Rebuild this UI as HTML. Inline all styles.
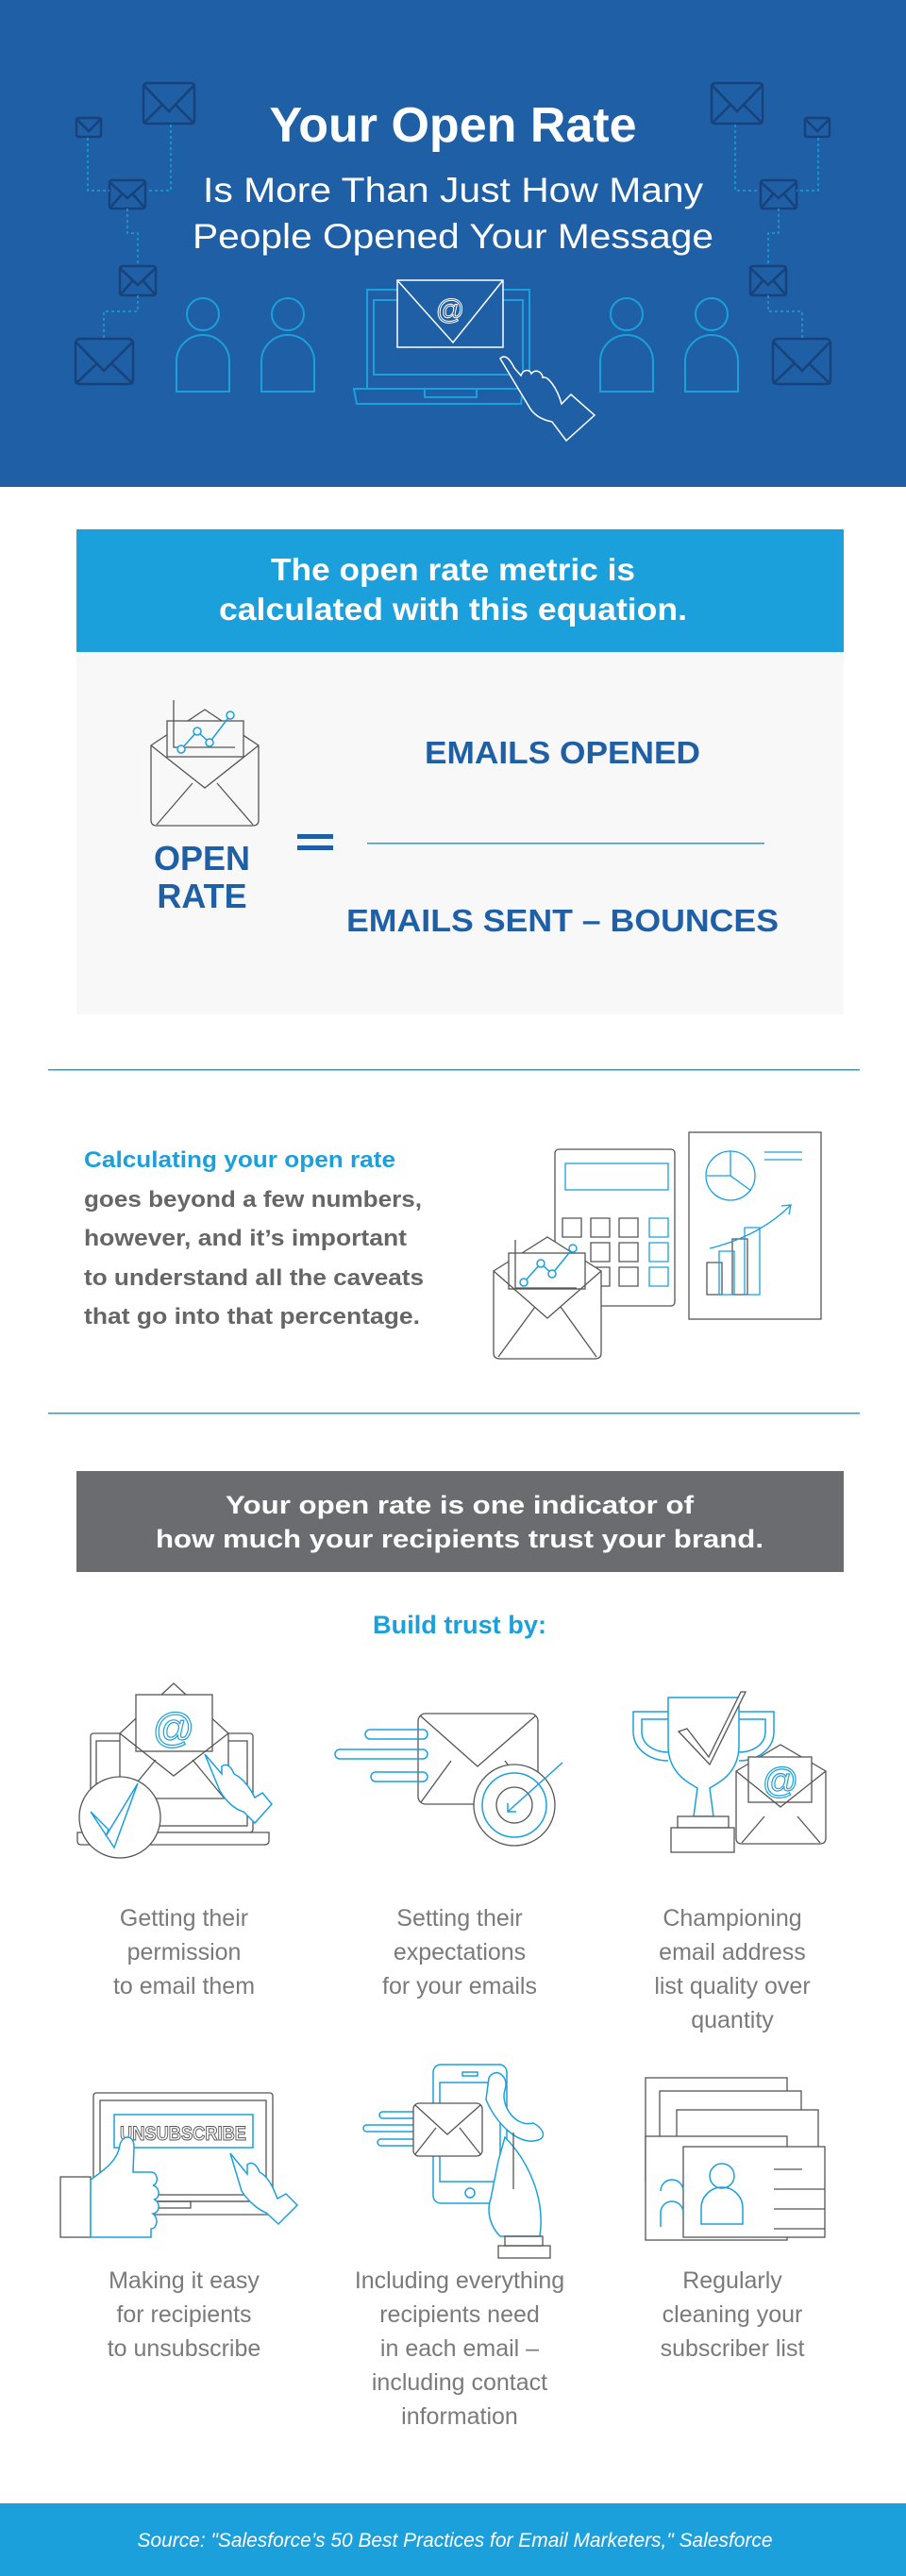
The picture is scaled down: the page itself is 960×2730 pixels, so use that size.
<!DOCTYPE html>
<html><head><meta charset="utf-8"><style>
html,body{margin:0;padding:0;background:#fff}
svg{display:block}
text{font-family:"Liberation Sans",sans-serif}
</style></head><body>
<svg width="960" height="2730" viewBox="0 0 960 2730" xmlns="http://www.w3.org/2000/svg">
<rect x="0" y="0" width="960" height="516" fill="#1f5fa6"/>
<g fill="none" stroke="#17427a" stroke-width="2.5">
 <g id="envL">
 <rect x="152" y="88" width="54" height="43" rx="4"/><path d="M152 90 L179 118 L206 90 M152 131 L172 111 M206 131 L186 111"/>
 <rect x="81" y="125" width="26" height="20" rx="2"/><path d="M81 126 L94 139 L107 126"/>
 <rect x="116" y="191" width="38" height="30" rx="3"/><path d="M116 193 L135 210 L154 193 M116 221 L129 206 M154 221 L141 206"/>
 <rect x="127" y="282" width="38" height="31" rx="3"/><path d="M127 284 L146 302 L165 284 M127 313 L140 298 M165 313 L152 298"/>
 <rect x="80" y="359" width="61" height="48" rx="5"/><path d="M80 362 L110 393 L141 362 M80 407 L103 385 M141 407 L118 385"/>
 </g>
 <use href="#envL" transform="translate(960 0) scale(-1 1)"/>
</g>
<g fill="none" stroke="#1ba0dc" stroke-width="1.5" stroke-dasharray="3 3">
 <path d="M181 132 V202 H156 M93 146 V202 H116 M135 221 V247 H146 V282 M146 313 V330 H110 V359"/>
 <path d="M779 132 V202 H804 M867 146 V202 H844 M825 221 V247 H814 V282 M814 313 V330 H850 V359"/>
</g>
<text x="480" y="150" text-anchor="middle" font-size="52" font-weight="bold" fill="#fff">Your Open Rate</text>
<text x="480" y="214" text-anchor="middle" font-size="37" fill="#fff" textLength="530" lengthAdjust="spacingAndGlyphs">Is More Than Just How Many</text>
<text x="480" y="263" text-anchor="middle" font-size="37" fill="#fff" textLength="552" lengthAdjust="spacingAndGlyphs">People Opened Your Message</text>
<g fill="none" stroke="#1ba0dc" stroke-width="2">
 <g id="pp"><ellipse cx="215" cy="333" rx="17" ry="17"/><path d="M187 415 V383 A28 28 0 0 1 243 383 V415 Z"/></g>
 <use href="#pp" transform="translate(90 0)"/><use href="#pp" transform="translate(449 0)"/><use href="#pp" transform="translate(539 0)"/>
 <rect x="389" y="307" width="172" height="105"/><rect x="396" y="318" width="158" height="79"/>
 <path d="M375 412 H554 L552 428 H378 Z"/><rect x="450" y="412" width="55" height="9"/>
</g>
<g fill="#1f5fa6" stroke="#fff" stroke-width="1.5">
 <rect x="421" y="297" width="112" height="71"/>
 <path d="M421 297 L480 363 L533 297" fill="none"/>
 <text x="477" y="338" text-anchor="middle" font-size="30" fill="none" stroke="#fff" stroke-width="1">@</text>
 <path d="M530 380 C535 375 540 380 545 390 L552 398 C555 390 562 392 563 396 C568 390 575 395 575 400 C580 398 590 410 595 428 L605 418 L630 440 L600 467 L585 447 C575 445 565 440 560 430 Z"/>
</g>

<rect x="81" y="561" width="813" height="130" fill="#1ba0dc"/>
<text x="480" y="615" text-anchor="middle" font-size="33" font-weight="bold" fill="#fff" textLength="386" lengthAdjust="spacingAndGlyphs">The open rate metric is</text>
<text x="480" y="657" text-anchor="middle" font-size="33" font-weight="bold" fill="#fff" textLength="496" lengthAdjust="spacingAndGlyphs">calculated with this equation.</text>
<rect x="81" y="691" width="813" height="384" fill="#f8f8f8"/>
<g fill="none" stroke="#555" stroke-width="1.3">
 <path d="M160 790 L217 752 L274 790 V869 Q274 875 268 875 H166 Q160 875 160 869 Z"/>
 <rect x="177" y="764" width="81" height="38" fill="#f8f8f8"/><path d="M184 742 V792 H249"/>
 <path d="M160 790 L217 835 L274 790 M166 874 L204 830 M268 874 L230 830"/>
</g>
<g fill="none" stroke="#1ba0dc" stroke-width="1.5"><path d="M192 794 L209 775 L222 787 L244 758"/><circle cx="192" cy="794" r="4" fill="#f8f8f8"/><circle cx="209" cy="775" r="4" fill="#f8f8f8"/><circle cx="222" cy="787" r="4" fill="#f8f8f8"/><circle cx="244" cy="758" r="4" fill="#f8f8f8"/></g>
<text x="214" y="922" text-anchor="middle" font-size="36" font-weight="bold" fill="#1f5fa6">OPEN</text>
<text x="214" y="962" text-anchor="middle" font-size="36" font-weight="bold" fill="#1f5fa6">RATE</text>
<rect x="315" y="884" width="38" height="5" fill="#1f5fa6"/><rect x="315" y="896" width="38" height="5" fill="#1f5fa6"/>
<text x="596" y="809" text-anchor="middle" font-size="33" font-weight="bold" fill="#1f5fa6" textLength="292" lengthAdjust="spacingAndGlyphs">EMAILS OPENED</text>
<rect x="389" y="893" width="421" height="1.5" fill="#1ba0dc"/>
<text x="596" y="987" text-anchor="middle" font-size="33" font-weight="bold" fill="#1f5fa6" textLength="458" lengthAdjust="spacingAndGlyphs">EMAILS SENT – BOUNCES</text>
<rect x="51" y="1133" width="860" height="1.5" fill="#1ba0dc"/>
<g font-size="24.5" font-weight="bold">
<text x="89" y="1237" fill="#1ba0dc" textLength="330" lengthAdjust="spacingAndGlyphs">Calculating your open rate</text>
<text x="89" y="1279" fill="#666" textLength="358" lengthAdjust="spacingAndGlyphs">goes beyond a few numbers,</text>
<text x="89" y="1320" fill="#666" textLength="342" lengthAdjust="spacingAndGlyphs">however, and it’s important</text>
<text x="89" y="1362" fill="#666" textLength="360" lengthAdjust="spacingAndGlyphs">to understand all the caveats</text>
<text x="89" y="1403" fill="#666" textLength="356" lengthAdjust="spacingAndGlyphs">that go into that percentage.</text>
</g>
<g fill="none" stroke="#555" stroke-width="1.3">
 <rect x="588" y="1218" width="127" height="166" rx="4"/>
 <rect x="730" y="1200" width="140" height="198"/>
 <path d="M596 1291h20v20h-20zM626 1291h20v20h-20zM656 1291h20v20h-20zM626 1317h20v20h-20zM656 1317h20v20h-20zM626 1343h20v20h-20zM656 1343h20v20h-20z"/>
 <path d="M749 1338h16v34h-16zM776 1313h16v59h-16z"/>
</g>
<g fill="none" stroke="#1ba0dc" stroke-width="1.3">
 <rect x="599" y="1233" width="109" height="28"/>
 <path d="M688 1291h20v20h-20zM688 1317h20v20h-20zM688 1343h20v20h-20z"/>
 <path d="M762 1326h16v46h-16zM789 1301h16v71h-16z"/>
 <circle cx="774" cy="1246" r="26"/><path d="M774 1220 V1246 L796 1262 M774 1246 H749"/>
 <path d="M810 1221h40M810 1229h40M752 1323 Q805 1310 838 1277 M828 1278 L838 1277 L836 1287"/>
</g>
<g fill="none" stroke="#555" stroke-width="1.3">
 <path d="M523 1347 L580 1311 L637 1347 V1434 Q637 1440 630 1440 H530 Q523 1440 523 1434 Z" fill="#fff"/>
 <rect x="539" y="1328" width="81" height="38" fill="#fff"/><path d="M546 1314 V1365 H611"/>
 <path d="M523 1347 L580 1397 L637 1347 M528 1438 L567 1385 M632 1438 L594 1385"/>
</g>
<g fill="none" stroke="#1ba0dc" stroke-width="1.5"><path d="M555 1359 L573 1339 L585 1350 L607 1323"/><circle cx="555" cy="1359" r="4" fill="#fff"/><circle cx="573" cy="1339" r="4" fill="#fff"/><circle cx="585" cy="1350" r="4" fill="#fff"/><circle cx="607" cy="1323" r="4" fill="#fff"/></g>
<rect x="51" y="1497" width="860" height="1.5" fill="#1ba0dc"/>

<rect x="81" y="1559" width="813" height="107" fill="#6b6c70"/>
<text x="487" y="1604" text-anchor="middle" font-size="27" font-weight="bold" fill="#fff" textLength="496" lengthAdjust="spacingAndGlyphs">Your open rate is one indicator of</text>
<text x="487" y="1640" text-anchor="middle" font-size="27" font-weight="bold" fill="#fff" textLength="644" lengthAdjust="spacingAndGlyphs">how much your recipients trust your brand.</text>
<text x="487" y="1731" text-anchor="middle" font-size="27" font-weight="bold" fill="#1ba0dc" textLength="184" lengthAdjust="spacingAndGlyphs">Build trust by:</text>

<g fill="none" stroke="#555" stroke-width="1.3">
 <rect x="96" y="1837" width="172" height="105" rx="3"/><rect x="102" y="1845" width="160" height="90"/>
 <path d="M82 1942 H285 V1951 Q285 1955 280 1955 H86 Q82 1955 82 1951 Z" fill="#fff"/>
 <path d="M127 1837 L184 1784 L242 1837 V1902 Q242 1906 237 1906 H132 Q127 1906 127 1902 Z" fill="#fff"/>
 <rect x="144" y="1796" width="81" height="60" fill="#fff"/>
 <path d="M127 1837 L184 1882 L242 1837 M132 1905 L165 1865 M237 1905 L204 1865"/>
 <circle cx="127" cy="1926" r="43" fill="#fff"/>
</g>
<g fill="none" stroke="#1ba0dc" stroke-width="1.5">
 <text x="184" y="1846" text-anchor="middle" font-size="44" fill="none" stroke="#1ba0dc" stroke-width="1.2">@</text>
 <path d="M96 1920 L115 1939 L112 1946 L146 1890 L121 1958 Z" fill="#fff"/>
 <path d="M217 1859 L235 1880 V1872 C240 1868 245 1872 248 1880 C258 1885 265 1895 270 1905 L278 1900 L288 1912 L270 1932 L258 1920 C250 1918 240 1910 233 1898 Z" fill="#fff"/>
</g>
<g fill="none" stroke="#555" stroke-width="1.3">
 <rect x="443" y="1816" width="127" height="96" rx="8"/>
 <path d="M445 1818 L506 1872 L568 1818 M446 1910 L478 1866 M567 1910 L535 1866"/>
 <circle cx="545" cy="1913" r="43" fill="#fff"/><circle cx="545" cy="1913" r="19"/>
</g>
<g fill="none" stroke="#1ba0dc" stroke-width="1.5">
 <circle cx="545" cy="1913" r="34"/>
 <path d="M596 1868 L538 1920 M538 1911 V1920 H547"/>
 <rect x="387" y="1833" width="66" height="10" rx="5"/><rect x="355" y="1854" width="98" height="10" rx="5"/><rect x="393" y="1878" width="60" height="10" rx="5"/>
</g>
<!-- icon3 trophy -->
<g fill="none" stroke="#1ba0dc" stroke-width="1.5">
 <path d="M708 1799 H783 V1850 C783 1880 760 1890 752 1895 L756 1925 H735 L739 1895 C731 1890 708 1880 708 1850 Z" fill="#fff"/>
 <path d="M708 1814 H671 V1835 C671 1855 690 1866 708 1866 M708 1822 H680 V1835 C680 1850 695 1857 708 1857"/>
 <path d="M783 1814 H820 V1835 C820 1855 801 1866 783 1866 M783 1822 H811 V1835 C811 1850 796 1857 783 1857"/>
</g>
<g fill="none" stroke="#555" stroke-width="1.3">
 <path d="M719 1835 L728 1832 L751 1862 L785 1793 L790 1793 L752 1870 Z" fill="#fff"/>
 <rect x="718" y="1925" width="54" height="12" fill="#fff"/><rect x="711" y="1937" width="67" height="26" fill="#fff"/>
 <path d="M780 1877 L827 1849 L875 1877 V1948 Q875 1954 869 1954 H786 Q780 1954 780 1948 Z" fill="#fff"/>
 <rect x="793" y="1862" width="67" height="48" fill="#fff"/>
 <path d="M780 1877 L827 1915 L875 1877 M786 1953 L810 1925 M869 1953 L845 1925"/>
</g>
<text x="827" y="1900" text-anchor="middle" font-size="38" fill="none" stroke="#1ba0dc" stroke-width="1.2">@</text>
<g font-size="25" fill="#7a7a7a" text-anchor="middle">
<text x="195" y="2041">Getting their</text><text x="195" y="2077">permission</text><text x="195" y="2113">to email them</text>
<text x="487" y="2041">Setting their</text><text x="487" y="2077">expectations</text><text x="487" y="2113">for your emails</text>
<text x="776" y="2041">Championing</text><text x="776" y="2077">email address</text><text x="776" y="2113">list quality over</text><text x="776" y="2149">quantity</text>
</g>
<g fill="none" stroke="#555" stroke-width="1.3">
 <rect x="99" y="2218" width="190" height="115" rx="3"/><rect x="106" y="2226" width="176" height="100"/>
 <path d="M120 2333 H305 L300 2347 H115 Z"/><rect x="150" y="2333" width="52" height="7"/>
 <rect x="64" y="2307" width="32" height="64" fill="#fff"/>
</g>
<rect x="121" y="2241" width="147" height="35" fill="#fff" stroke="#1ba0dc" stroke-width="1.5"/>
<text x="194" y="2268" text-anchor="middle" font-size="21" font-weight="bold" fill="#fff" stroke="#555" stroke-width="1" textLength="134" lengthAdjust="spacingAndGlyphs">UNSUBSCRIBE</text>
<g fill="#fff" stroke="#1ba0dc" stroke-width="1.5">
 <path d="M96 2310 C110 2300 125 2290 127 2273 C130 2262 142 2262 142 2275 L141 2302 H160 C168 2302 168 2315 162 2316 C170 2318 170 2330 163 2331 C170 2333 170 2345 162 2346 C168 2350 167 2362 160 2362 V2371 H96 Z"/>
 <path d="M244 2282 L262 2304 V2294 C267 2290 272 2294 275 2302 C285 2307 290 2320 294 2330 L303 2325 L315 2337 L295 2357 L282 2345 C274 2342 264 2334 256 2322 Z"/>
</g>
<g fill="none" stroke="#1ba0dc" stroke-width="1.5">
 <rect x="459" y="2188" width="78" height="147" rx="8"/><rect x="466" y="2207" width="64" height="105"/>
 <circle cx="498" cy="2324" r="5"/><rect x="490" y="2196" width="16" height="4"/>
 <path d="M518 2202 C525 2190 540 2200 535 2215 C530 2230 545 2255 565 2250 C575 2255 580 2265 570 2268 C550 2275 525 2250 515 2225 Z" fill="#fff"/>
 <path d="M535 2265 C555 2285 575 2320 573 2360 L572 2370 H530 C520 2360 515 2345 520 2330 L528 2290 Z" fill="#fff"/>
 <rect x="402" y="2238" width="40" height="7" rx="3.5"/><rect x="385" y="2252" width="57" height="7" rx="3.5"/><rect x="400" y="2267" width="42" height="7" rx="3.5"/>
</g>
<g fill="none" stroke="#555" stroke-width="1.3">
 <rect x="438" y="2229" width="73" height="56" rx="6" fill="#fff"/>
 <path d="M440 2231 L474 2262 L509 2231 M440 2283 L462 2255 M509 2283 L487 2255"/>
 <rect x="535" y="2370" width="40" height="10"/><rect x="528" y="2380" width="55" height="13"/>
 <path d="M544 2260 V2320"/>
</g>
<g fill="#fff" stroke="#555" stroke-width="1.3">
 <rect x="684" y="2202" width="150" height="110"/>
 <rect x="699" y="2216" width="150" height="110"/>
 <rect x="717" y="2236" width="150" height="110"/>
 <rect x="684" y="2264" width="150" height="110"/>
 <rect x="724" y="2275" width="150" height="96"/>
 <path d="M820 2299h30M820 2320h54M820 2341h54M820 2362h54" fill="none"/>
</g>
<g fill="none" stroke="#1ba0dc" stroke-width="1.5">
 <circle cx="765" cy="2306" r="13"/><path d="M743 2357 V2340 A22 22 0 0 1 787 2340 V2357 Z"/>
 <path d="M700 2322 A12 12 0 0 1 724 2322 M700 2360 V2345 A12 12 0 0 1 724 2345"/>
</g>
<g font-size="25" fill="#7a7a7a" text-anchor="middle">
<text x="195" y="2425">Making it easy</text><text x="195" y="2461">for recipients</text><text x="195" y="2497">to unsubscribe</text>
<text x="487" y="2425">Including everything</text><text x="487" y="2461">recipients need</text><text x="487" y="2497">in each email –</text><text x="487" y="2533">including contact</text><text x="487" y="2569">information</text>
<text x="776" y="2425">Regularly</text><text x="776" y="2461">cleaning your</text><text x="776" y="2497">subscriber list</text>
</g>
<rect x="0" y="2653" width="960" height="77" fill="#1ba0dc"/>
<text x="482" y="2699" text-anchor="middle" font-size="21" font-style="italic" fill="#fff" textLength="673" lengthAdjust="spacingAndGlyphs">Source: "Salesforce’s 50 Best Practices for Email Marketers," Salesforce</text>
</svg>
</body></html>
